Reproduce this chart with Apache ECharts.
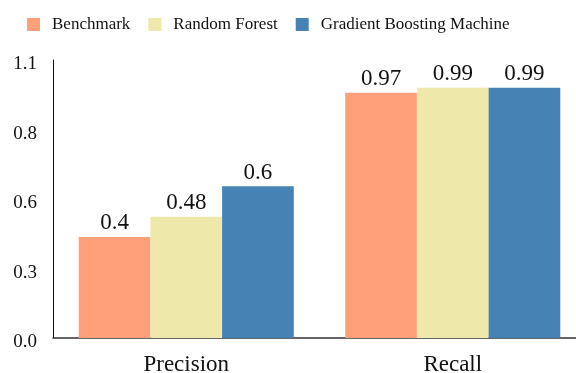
<!DOCTYPE html>
<html><head><meta charset="utf-8">
<script src="https://cdn.jsdelivr.net/npm/echarts@6/dist/echarts.min.js"></script>
<style>html,body{margin:0;padding:0;background:#fff}#c{width:576px;height:373px}</style>
</head><body><div id="c"></div>
<script>
const categories = ["Precision", "Recall"];
const seriesNames = ["Benchmark", "Random Forest", "Gradient Boosting Machine"];
const benchmark = [0.4, 0.97];
const randomForest = [0.48, 0.99];
const gbm = [0.6, 0.99];
const colors = ["#FFA07A", "#EEE8AA", "#4682B4"];
const font = "Liberation Serif";
const values = [benchmark, randomForest, gbm];
const chart = echarts.init(document.getElementById('c'), null, {renderer: 'canvas'});
chart.setOption({
  animation: false,
  textStyle: {fontFamily: font},
  legend: {
    left: 22, top: 11, itemWidth: 13, itemHeight: 13, itemGap: 18, icon: 'rect',
    textStyle: {fontFamily: font, fontSize: 17, color: '#111', padding: [0,0,0,7]},
    data: seriesNames
  },
  grid: {left: 53, top: 60, bottom: 35, right: -10, containLabel: false, outerBoundsMode: 'none'},
  xAxis: {
    type: 'category', data: categories,
    axisLine: {lineStyle: {color: '#333', width: 1.5}},
    axisTick: {show: false},
    axisLabel: {fontFamily: font, fontSize: 23, color: '#111', margin: 15}
  },
  yAxis: {
    type: 'value', min: 0, max: 1.1, interval: 0.275,
    axisLine: {show: true, lineStyle: {color: '#111', width: 1}},
    axisTick: {show: false},
    splitLine: {show: false},
    axisLabel: {fontFamily: font, fontSize: 19, color: '#111', margin: 16,
      verticalAlign: 'top', lineHeight: 9,
      formatter: v => v.toFixed(1)}
  },
  series: seriesNames.map((n, i) => ({
    name: n, type: 'bar', data: values[i],
    barGap: '0%', barCategoryGap: '19.3%',
    itemStyle: {color: colors[i]},
    label: {show: true, position: 'top', distance: 2, fontFamily: font, fontSize: 23, color: '#111',
      formatter: p => String(p.value)}
  }))
});
</script></body></html>
